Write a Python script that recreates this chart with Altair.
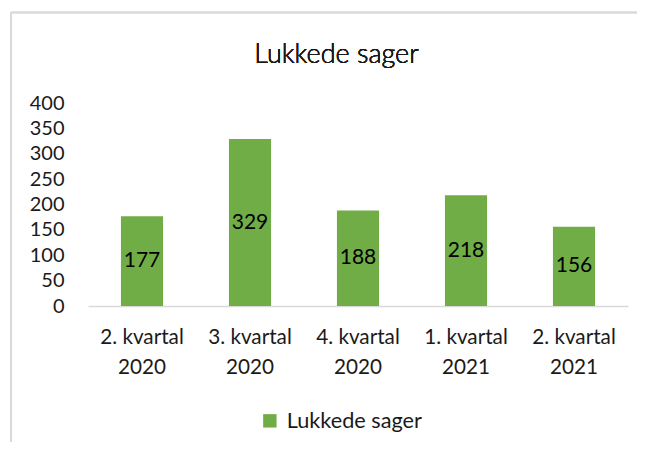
import altair as alt
import pandas as pd

categories = ["2. kvartal 2020", "3. kvartal 2020", "4. kvartal 2020", "1. kvartal 2021", "2. kvartal 2021"]
values = [177, 329, 188, 218, 156]
series_name = "Lukkede sager"
chart_title = "Lukkede sager"
y_ticks = [0, 50, 100, 150, 200, 250, 300, 350, 400]

df = pd.DataFrame({"kvartal": categories, "antal": values, "serie": [series_name] * len(values)})

FONT = "Lato"
GREEN = "#70AD47"
GRID = "#D9D9D9"
TXT = "#1a1a1a"

x_axis = alt.Axis(labelAngle=0, ticks=False, domainColor=GRID, domainWidth=1.5,
                  labelFont=FONT, labelFontSize=20.7, labelColor=TXT, labelPadding=21,
                  labelLineHeight=30, labelOverlap=False,
                  labelExpr="[slice(datum.label,0,10), slice(datum.label,11)]")
y_axis = alt.Axis(values=y_ticks, grid=False, domain=False, ticks=False,
                  labelOverlap=False, labelFont=FONT, labelFontSize=20,
                  labelColor=TXT, labelPadding=24)
x_scale = alt.Scale(paddingInner=0.61, paddingOuter=0.305)
y_scale = alt.Scale(domain=[0, 400], nice=False)

base = alt.Chart(df)

bars = base.mark_bar(color=GREEN).encode(
    x=alt.X("kvartal:N", sort=categories, title=None, scale=x_scale, axis=x_axis),
    y=alt.Y("antal:Q", title=None, scale=y_scale, axis=y_axis),
    color=alt.Color("serie:N", scale=alt.Scale(range=[GREEN]), title=None,
                    legend=alt.Legend(orient="none", legendX=171, legendY=307,
                                      symbolType="square", symbolSize=180,
                                      symbolStrokeWidth=0,
                                      labelFont=FONT, labelFontSize=21.7, labelColor=TXT,
                                      labelOffset=6))
)

labels = base.mark_text(font=FONT, fontSize=21, color="black", baseline="middle").encode(
    x=alt.X("kvartal:N", sort=categories, title=None, scale=x_scale, axis=x_axis),
    y=alt.Y("mid:Q", title=None, scale=y_scale, axis=y_axis),
    text="antal:Q"
).transform_calculate(mid="datum.antal / 2")

title = base.mark_text(font=FONT, fontSize=27, fontWeight=300, color=TXT,
                       baseline="alphabetic", align="center").encode(
    x=alt.value(248.5), y=alt.value(-40.5), text=alt.value(chart_title))

border_top = base.mark_rule(color=GRID, strokeWidth=1.5).encode(
    x=alt.value(-77), x2=alt.value(560), y=alt.value(-90.5))
border_left = base.mark_rule(color=GRID, strokeWidth=1.5).encode(
    x=alt.value(-77), y=alt.value(-90.5), y2=alt.value(350))

chart = alt.layer(border_top, border_left, title, bars, labels).properties(
    width=540, height=203,
    autosize=alt.AutoSizeParams(type="none"),
    padding={"left": 80, "top": 95, "right": 9, "bottom": 136},
).configure_view(stroke=None)

chart.save("out.html", embed_options={"renderer": "svg", "actions": False})
